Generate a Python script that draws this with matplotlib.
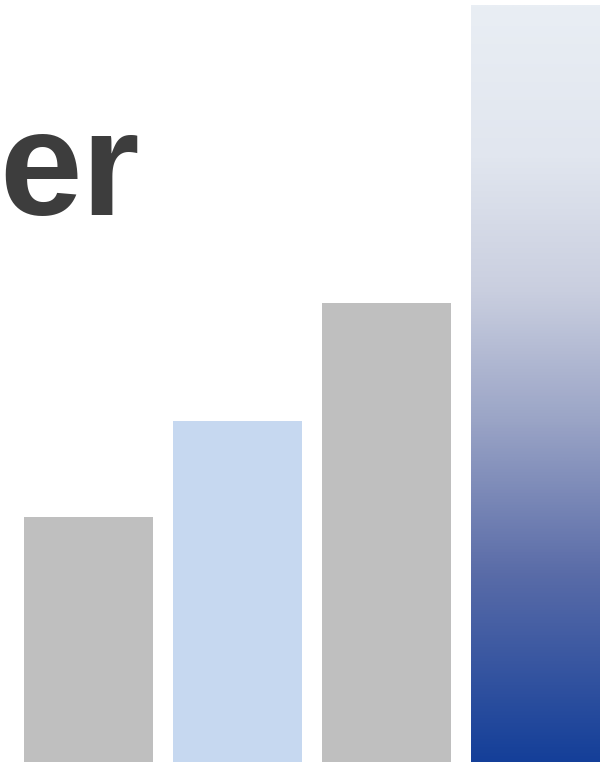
import matplotlib
matplotlib.use('Agg')
import matplotlib.pyplot as plt
import numpy as np
from matplotlib.colors import LinearSegmentedColormap

# Valores de las barras (escala relativa, la última = 100)
categories = ["A", "B", "C", "D"]
values = [32.4, 45.0, 60.7, 100.0]
bar_colors = ["#bfbfbf", "#c6d8f0", "#bfbfbf", None]  # la última va con degradado
title_text = "er"

W, H = 603, 765
fig = plt.figure(figsize=(W / 100, H / 100), dpi=100)
fig.patch.set_facecolor('white')

ax = fig.add_axes([24 / W, 3 / H, (600 - 24) / W, 757 / H])
ax.set_xlim(-0.5 * 129 / 149, len(values) - 1 + 0.5 * 129 / 149)
ax.set_ylim(0, 100)
ax.axis('off')

x = np.arange(len(values))
width = 129 / 149
bars = ax.bar(x, values, width=width, color=[c if c else 'none' for c in bar_colors],
              edgecolor='none', zorder=2)

# Degradado de la última barra: claro arriba, azul oscuro abajo
cmap = LinearSegmentedColormap.from_list('grad', [
    (0.0, "#143f99"),
    (0.25, "#5a6ca8"),
    (0.45, "#9aa4c6"),
    (0.62, "#c9cedf"),
    (0.80, "#e1e6ef"),
    (1.0, "#e9eef4"),
])
last = bars[-1]
x0, w = last.get_x(), last.get_width()
grad = np.linspace(0, 1, 512).reshape(-1, 1)
img = ax.imshow(grad, cmap=cmap, origin='lower', aspect='auto',
                extent=(x0, x0 + w, 0, values[-1]), zorder=2)
img.set_clip_path(last)

fig.text(-1 / W, 1 - 215 / H, title_text, fontsize=107, fontweight='bold',
         family=['Liberation Sans', 'DejaVu Sans'], color='#3d3d3d',
         ha='left', va='baseline')

fig.savefig('out.png', dpi=100, facecolor='white')
plt.close(fig)
